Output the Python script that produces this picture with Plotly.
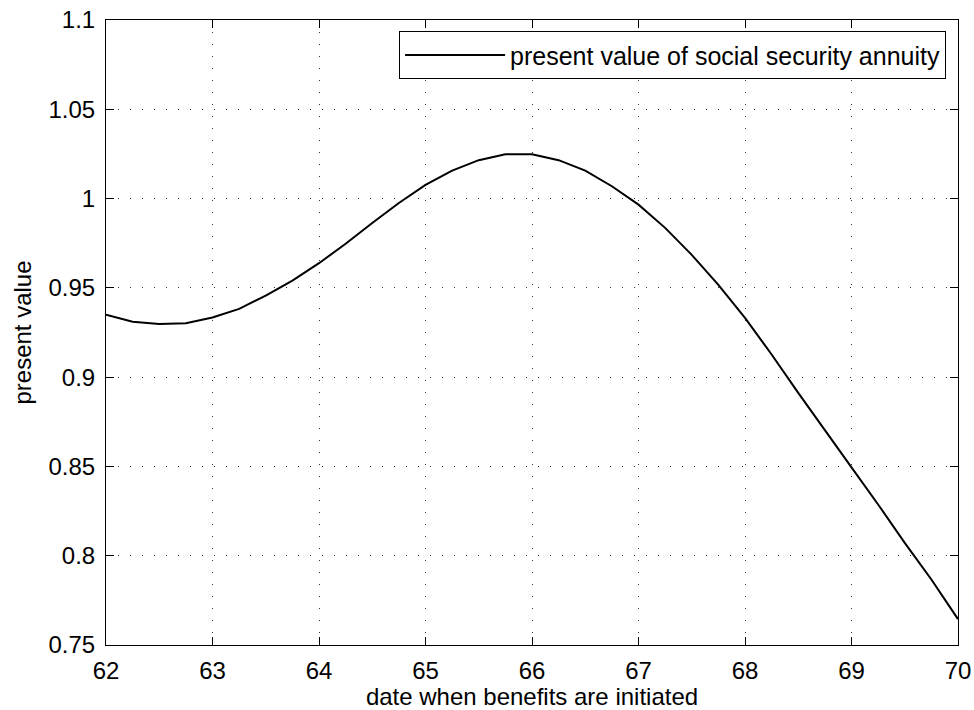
import plotly.graph_objects as go

ages = [62.0, 62.25, 62.5, 62.75, 63.0, 63.25, 63.5, 63.75, 64.0, 64.25, 64.5, 64.75,
        65.0, 65.25, 65.5, 65.75, 66.0, 66.25, 66.5, 66.75, 67.0, 67.25, 67.5, 67.75,
        68.0, 68.25, 68.5, 68.75, 69.0, 69.25, 69.5, 69.75, 70.0]
present_value = [0.935, 0.931, 0.9298, 0.9302, 0.9334, 0.9382, 0.9457, 0.9541, 0.9638,
                 0.9747, 0.9863, 0.9975, 1.0077, 1.0157, 1.0215, 1.0248, 1.0248, 1.0215,
                 1.0157, 1.0069, 0.9966, 0.9836, 0.9685, 0.9517, 0.9332, 0.9127, 0.8912,
                 0.8701, 0.8495, 0.8287, 0.8072, 0.7867, 0.7645]

x_ticks = [62, 63, 64, 65, 66, 67, 68, 69, 70]
x_labels = ["62", "63", "64", "65", "66", "67", "68", "69", "70"]
y_ticks = [0.75, 0.8, 0.85, 0.9, 0.95, 1.0, 1.05, 1.1]
y_labels = ["0.75", "0.8", "0.85", "0.9", "0.95", "1", "1.05", "1.1"]

series_name = "present value of social security annuity"
x_title = "date when benefits are initiated"
y_title = "present value"

font_family = "Liberation Sans, Arial, Helvetica, sans-serif"
fsize = 24

fig = go.Figure()
fig.add_trace(go.Scatter(x=ages, y=present_value, mode="lines", name=series_name,
                         line=dict(color="black", width=2)))

axis_common = dict(
    showline=True, linecolor="black", linewidth=1, mirror="ticks",
    ticks="inside", ticklen=8, tickcolor="black", tickwidth=1,
    showgrid=True, gridcolor="#333333", gridwidth=1, griddash="1px,11px",
    zeroline=False, automargin=False, ticklabeloverflow="allow",
    tickfont=dict(family=font_family, size=fsize, color="black"),
)

fig.update_xaxes(range=[62, 70], tickvals=x_ticks, ticktext=x_labels,
                 ticklabelstandoff=4,
                 title=dict(text=x_title, standoff=0,
                            font=dict(family=font_family, size=fsize, color="black")),
                 **axis_common)
fig.update_yaxes(range=[0.75, 1.1], tickvals=y_ticks, ticktext=y_labels,
                 ticklabelstandoff=5,
                 title=dict(text=y_title, standoff=10,
                            font=dict(family=font_family, size=fsize, color="black")),
                 **axis_common)

fig.update_layout(
    width=974, height=710,
    margin=dict(l=106, r=16, t=20, b=65, autoexpand=False),
    paper_bgcolor="white", plot_bgcolor="white",
    font=dict(family=font_family, size=fsize, color="black"),
    showlegend=True,
    legend=dict(x=0.986, y=0.982, xanchor="right", yanchor="top",
                bgcolor="white", bordercolor="black", borderwidth=1,
                font=dict(family=font_family, size=25, color="black"),
                itemwidth=100),
)

fig.write_html("out.html", config={"displayModeBar": False},
               post_script="document.body.style.margin='0';document.body.style.overflow='hidden';")
